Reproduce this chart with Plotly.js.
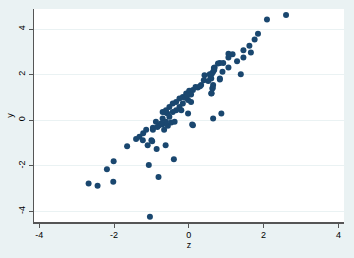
<!DOCTYPE html>
<html>
<head>
<meta charset="utf-8">
<script src="https://cdn.plot.ly/plotly-3.0.1.min.js"></script>
<style>html,body{margin:0;padding:0;background:#eaf2f3;}#chart{width:354px;height:258px;}</style>
</head>
<body>
<div id="chart"></div>
<script>
var zVals = [
  -2.68,-2.44,-2.02,-2.01,-2.19,-1.65,-1.41,-1.32,-1.23,-1.22,-1.14,-1.10,-1.00,-0.98,-1.07,-0.81,-0.86,-0.62,-0.66,-0.96,-0.40,-1.04,
  -0.96,-0.88,-0.79,-0.70,-0.56,-0.47,-0.38,-0.63,-0.58,-0.52,-0.34,-0.70,-0.61,-0.84,-0.74,
  0.83,0.92,0.69,0.65,0.56,0.42,0.60,0.65,0.63,0.60,0.83,0.33,0.24,0.11,0.02,-0.07,-0.16,-0.25,-0.34,-0.43,-0.52,-0.61,-0.70,
  -0.02,0.06,-0.16,-0.25,-0.20,-0.43,-0.02,0.11,0.65,0.87,0.09,0.01,0.06,0.18,0.30,0.40,0.64,0.61,
  2.60,2.09,1.85,1.76,1.62,1.66,1.46,1.46,1.29,1.39,1.06,1.17,1.06,1.06,0.90,0.78,0.67,0.83,0.62,0.58,
  0.68,0.52,-0.10,-0.05
];
var yVals = [
  -2.78,-2.88,-2.70,-1.80,-2.15,-1.15,-0.83,-0.73,-0.88,-0.57,-0.42,-1.10,-0.88,-0.93,-1.97,-2.49,-1.27,-1.10,-0.42,-0.42,-1.72,-4.24,
  -0.33,-0.07,-0.22,-0.18,-0.25,-0.10,-0.07,0.35,0.30,0.15,0.44,0.07,-0.07,-0.30,-0.15,
  2.51,2.51,2.31,2.12,2.02,1.97,1.83,1.54,1.39,1.17,1.83,1.54,1.43,1.32,1.24,1.17,1.02,0.95,0.80,0.73,0.58,0.44,0.36,
  0.88,0.80,0.73,0.58,0.44,0.36,0.29,-0.22,0.07,0.29,-0.19,1.29,1.13,1.46,1.49,1.75,1.42,1.18,
  4.62,4.42,3.79,3.54,3.27,2.97,3.07,2.75,2.59,2.02,2.92,2.89,2.75,2.31,2.13,2.49,2.29,1.78,2.05,1.90,
  2.20,1.72,0.98,1.08
];
var xTicks = [-4,-2,0,2,4];
var yTicks = [-4,-2,0,2,4];

var font = {family: 'Liberation Sans, Arial, sans-serif', size: 9, color: '#000'};
Plotly.newPlot('chart', [{
  type: 'scatter', mode: 'markers', x: zVals, y: yVals,
  marker: {color: '#1a476f', size: 6, line: {width: 0}}
}], {
  width: 354, height: 258,
  margin: {l: 34, r: 10, t: 9, b: 36},
  paper_bgcolor: '#eaf2f3', plot_bgcolor: '#ffffff',
  showlegend: false,
  font: font,
  xaxis: {
    range: [-4.14, 4.15], tickvals: xTicks, ticktext: xTicks.map(String),
    showgrid: false, zeroline: false, showline: true, linecolor: '#555', linewidth: 1.5,
    ticks: 'outside', ticklen: 4, tickcolor: '#555', tickwidth: 1,
    title: {text: 'z', font: font, standoff: 2}
  },
  yaxis: {
    range: [-4.47, 4.88], tickvals: yTicks, ticktext: yTicks.map(String), tickangle: -90,
    showgrid: true, gridcolor: '#eaf2f3', gridwidth: 1, zeroline: false,
    showline: true, linecolor: '#555', linewidth: 1.5,
    ticks: 'outside', ticklen: 4, tickcolor: '#555', tickwidth: 1,
    title: {text: 'y', font: font, standoff: 2}
  }
}, {staticPlot: true, displayModeBar: false});
</script>
</body>
</html>
